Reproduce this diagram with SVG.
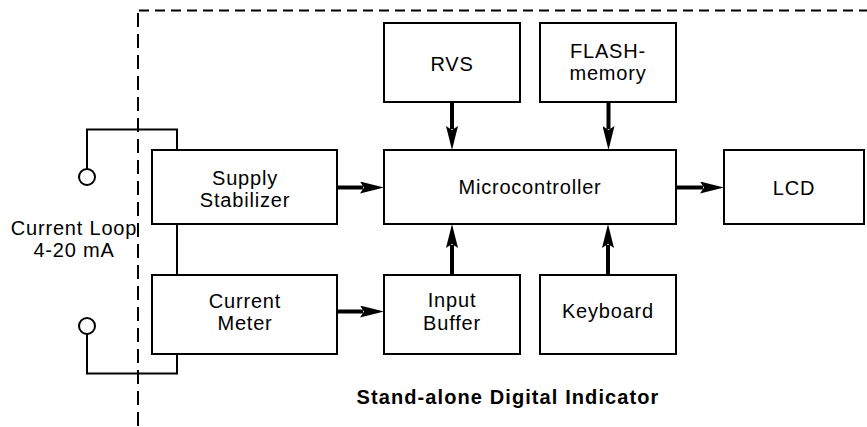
<svg xmlns="http://www.w3.org/2000/svg" width="867" height="427" viewBox="0 0 867 427">
<defs>
<style>
.box{fill:#fff;stroke:#000;stroke-width:2}
.wire{fill:none;stroke:#000;stroke-width:2}
.term{fill:#fff;stroke:#000;stroke-width:2}
.dashv{fill:none;stroke:#000;stroke-width:2;stroke-dasharray:14 7}
.dashh{fill:none;stroke:#000;stroke-width:2;stroke-dasharray:10 6}
.arr{fill:none;stroke:#000;stroke-width:4;marker-end:url(#ah)}
text{font-family:"Liberation Sans",Arial,sans-serif;font-size:20px;letter-spacing:0.8px;text-anchor:middle;fill:#000}
.title{font-weight:bold;letter-spacing:1.1px}
</style>
<marker id="ah" markerUnits="userSpaceOnUse" markerWidth="24" markerHeight="12" viewBox="0 0 24 12" refX="3" refY="6" orient="auto">
<path d="M0,0 L24,6 L0,12 L4,6 z" fill="#000"/>
</marker>
</defs>
<g id="boundary">
<line class="dashv" x1="138" y1="13" x2="138" y2="427"/>
<line class="dashh" x1="139" y1="10.5" x2="867" y2="10.5"/>
</g>
<g id="current-loop">
<path class="wire" d="M87,169 V129.5 H177 V150"/>
<path class="wire" d="M177,224 V275"/>
<path class="wire" d="M87,334 V373.5 H177 V354"/>
<circle class="term" cx="87" cy="177" r="8"/>
<circle class="term" cx="87" cy="326" r="8"/>
<text x="74" y="235">Current Loop</text>
<text x="74" y="257">4-20 mA</text>
</g>
<g id="connectors">
<line class="arr" x1="338" y1="187.5" x2="363" y2="187.5"/>
<line class="arr" x1="338" y1="311.5" x2="363" y2="311.5"/>
<line class="arr" x1="677" y1="187.5" x2="703" y2="187.5"/>
<line class="arr" x1="452" y1="102" x2="452" y2="129"/>
<line class="arr" x1="608.5" y1="102" x2="608.5" y2="129"/>
<line class="arr" x1="452" y1="274" x2="452" y2="245"/>
<line class="arr" x1="608" y1="274" x2="608" y2="245"/>
</g>
<g id="supply-stabilizer">
<rect class="box" x="152" y="150" width="185" height="74"/>
<text x="245" y="185">Supply</text>
<text x="245" y="207">Stabilizer</text>
</g>
<g id="current-meter">
<rect class="box" x="152" y="275" width="185" height="79"/>
<text x="245" y="308">Current</text>
<text x="245" y="330">Meter</text>
</g>
<g id="rvs">
<rect class="box" x="384" y="23" width="136" height="79"/>
<text x="452" y="71">RVS</text>
</g>
<g id="flash-memory">
<rect class="box" x="540" y="23" width="136" height="79"/>
<text x="608" y="58">FLASH-</text>
<text x="608" y="80">memory</text>
</g>
<g id="microcontroller">
<rect class="box" x="384" y="150" width="292" height="74"/>
<text x="530" y="194">Microcontroller</text>
</g>
<g id="lcd">
<rect class="box" x="724" y="150" width="140" height="74"/>
<text x="794" y="195">LCD</text>
</g>
<g id="input-buffer">
<rect class="box" x="384" y="275" width="136" height="79"/>
<text x="452" y="307">Input</text>
<text x="452" y="330">Buffer</text>
</g>
<g id="keyboard">
<rect class="box" x="540" y="275" width="136" height="79"/>
<text x="608" y="318">Keyboard</text>
</g>
<g id="caption">
<text class="title" x="508" y="404">Stand-alone Digital Indicator</text>
</g>
</svg>
